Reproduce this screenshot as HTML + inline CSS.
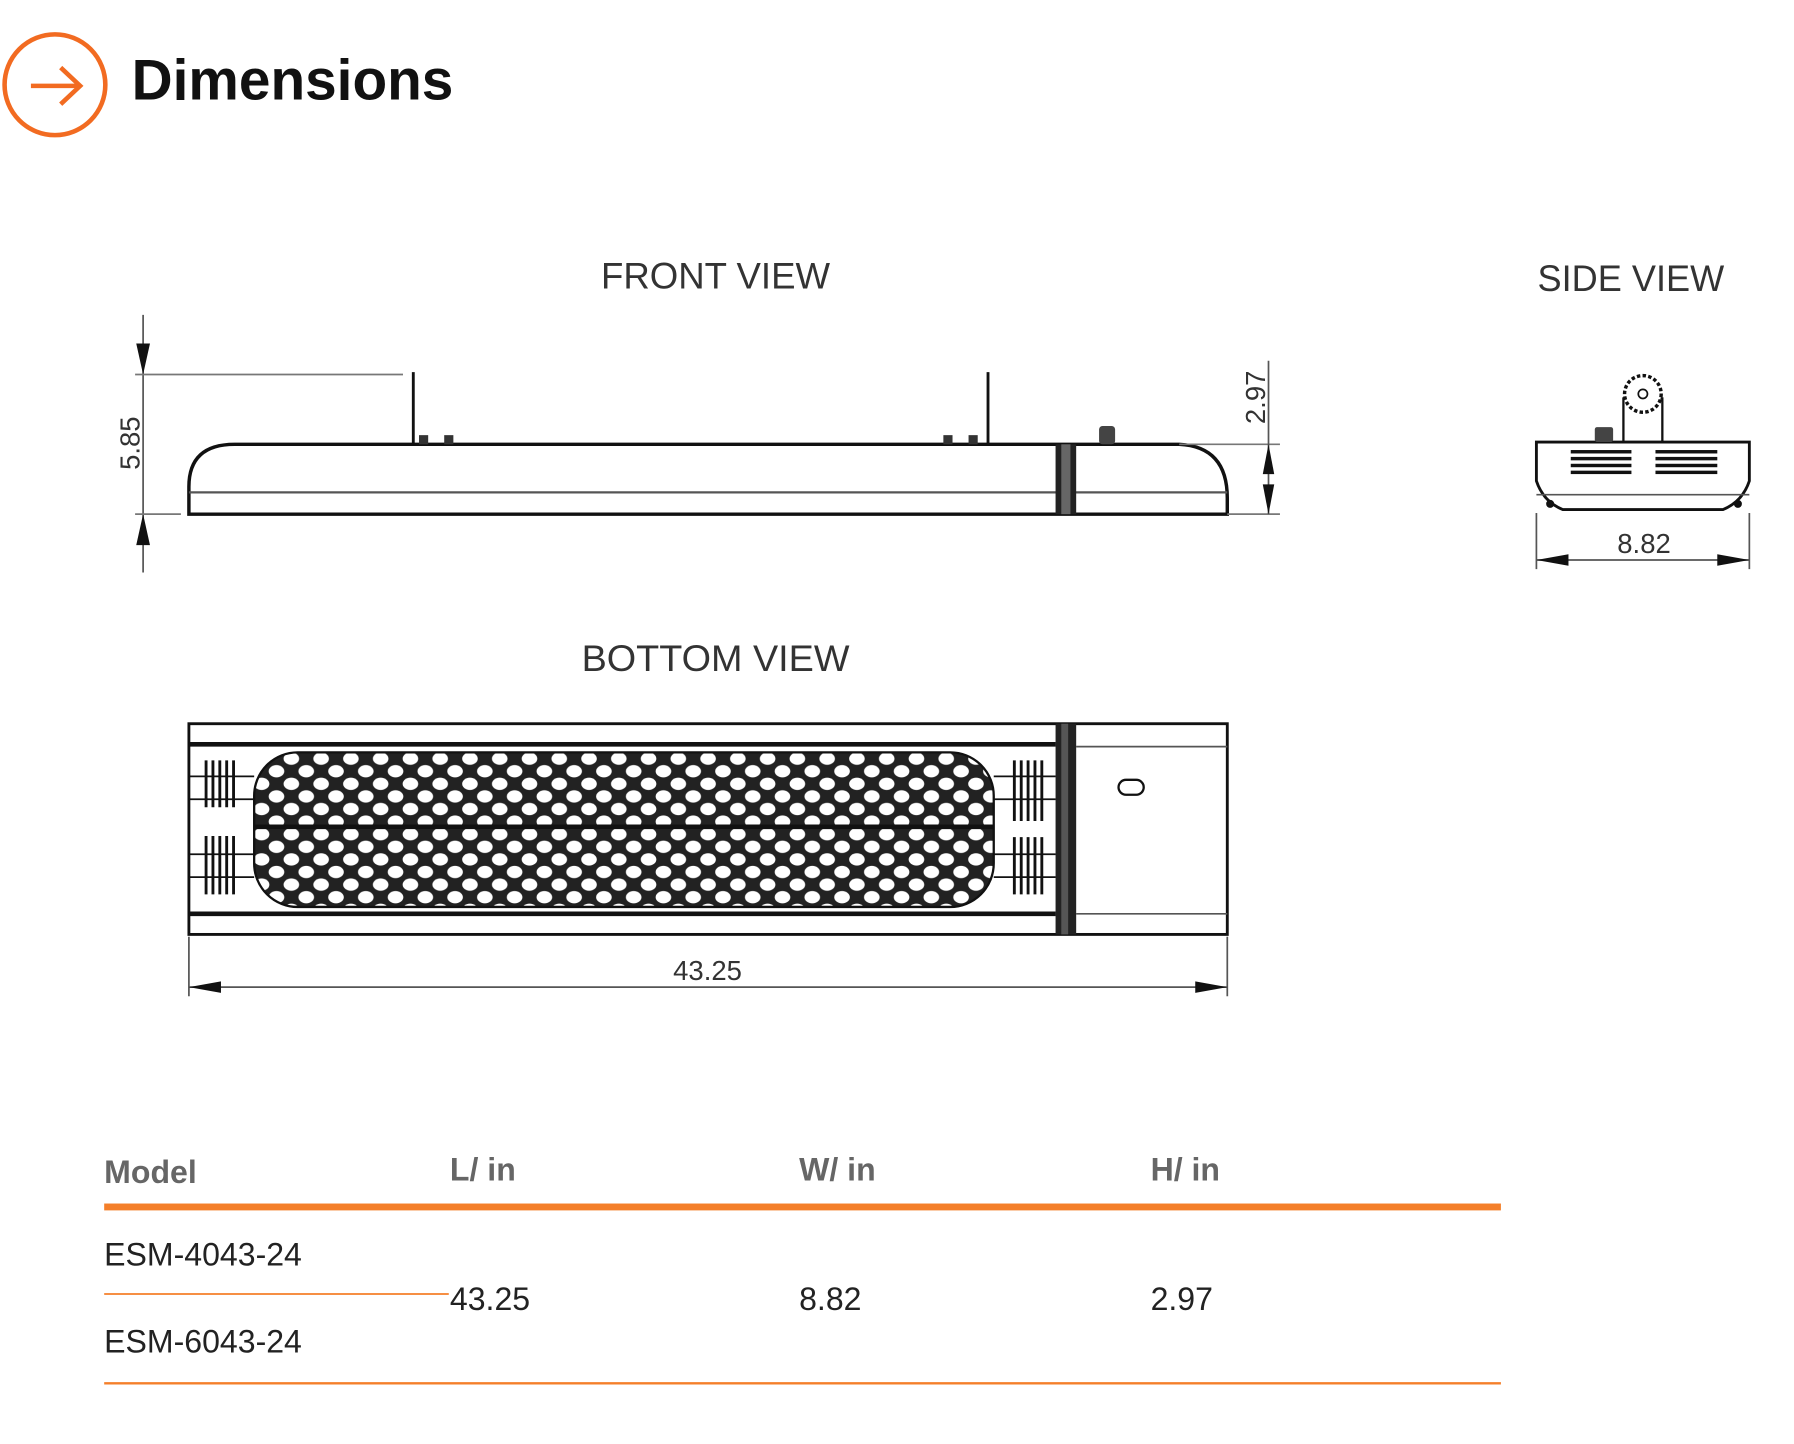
<!DOCTYPE html>
<html><head><meta charset="utf-8"><style>
html,body{margin:0;padding:0;background:#fff;}
svg{display:block;}
</style></head><body>
<svg width="1794" height="1444" viewBox="0 0 1567 1261" preserveAspectRatio="none" xmlns="http://www.w3.org/2000/svg" font-family="Liberation Sans, sans-serif">
<defs>
<pattern id="hex" x="222" y="657" width="26" height="22" patternUnits="userSpaceOnUse">
<rect width="26" height="22" fill="#222"/>
<ellipse cx="6.5" cy="5.5" rx="6.8" ry="5.4" fill="#fff"/>
<ellipse cx="19.5" cy="16.5" rx="6.8" ry="5.4" fill="#fff"/>
<ellipse cx="19.5" cy="-5.5" rx="6.8" ry="5.4" fill="#fff"/>
<ellipse cx="-6.5" cy="16.5" rx="6.8" ry="5.4" fill="#fff"/>
<ellipse cx="32.5" cy="5.5" rx="6.8" ry="5.4" fill="#fff"/>
<ellipse cx="6.5" cy="27.5" rx="6.8" ry="5.4" fill="#fff"/>
</pattern>
</defs>

<!-- Title -->
<circle cx="48" cy="74" r="44" fill="none" stroke="#f26b21" stroke-width="4"/>
<line x1="27" y1="75" x2="69" y2="75" stroke="#f26b21" stroke-width="4"/>
<polyline points="53,59 70,75 53,91" fill="none" stroke="#f26b21" stroke-width="4"/>
<text x="115" y="87" font-size="50" font-weight="bold" fill="#111" textLength="281" lengthAdjust="spacingAndGlyphs">Dimensions</text>

<!-- view labels -->
<g fill="#333" font-size="32">
<text x="525" y="252" textLength="200" lengthAdjust="spacingAndGlyphs">FRONT VIEW</text>
<text x="1343" y="254" textLength="163" lengthAdjust="spacingAndGlyphs">SIDE VIEW</text>
<text x="508" y="586" textLength="234" lengthAdjust="spacingAndGlyphs">BOTTOM VIEW</text>
</g>

<!-- FRONT VIEW -->
<g stroke="#111" fill="none">
<line x1="125" y1="275" x2="125" y2="500" stroke="#555" stroke-width="1.5"/>
<path d="M119,300 L125,327 L131,300 Z" fill="#111" stroke="none"/>
<path d="M119,476 L125,449 L131,476 Z" fill="#111" stroke="none"/>
<line x1="118" y1="327" x2="352" y2="327" stroke="#777" stroke-width="1.5"/>
<line x1="118" y1="449" x2="158" y2="449" stroke="#777" stroke-width="1.5"/>
<path d="M165,449 L165,425 Q165,388 205,388 L1030,388 Q1072,390 1072,435 L1072,449 Z" stroke-width="3"/>
<line x1="165" y1="430" x2="1072" y2="430" stroke="#555" stroke-width="2"/>
<rect x="922" y="388" width="18" height="61" fill="#222" stroke="none"/>
<rect x="927" y="388" width="8" height="61" fill="#666" stroke="none"/>
<line x1="361" y1="325" x2="361" y2="388" stroke-width="2.5"/>
<line x1="863" y1="325" x2="863" y2="388" stroke-width="2.5"/>
<rect x="366" y="380" width="8" height="8" fill="#333" stroke="none"/>
<rect x="388" y="380" width="8" height="8" fill="#333" stroke="none"/>
<rect x="824" y="380" width="8" height="8" fill="#333" stroke="none"/>
<rect x="846" y="380" width="8" height="8" fill="#333" stroke="none"/>
<rect x="960" y="372" width="14" height="16" rx="3" fill="#444" stroke="none"/>
<line x1="1030" y1="388" x2="1118" y2="388" stroke="#777" stroke-width="1.5"/>
<line x1="1072" y1="449" x2="1118" y2="449" stroke="#777" stroke-width="1.5"/>
<line x1="1108" y1="315" x2="1108" y2="449" stroke="#555" stroke-width="1.5"/>
<path d="M1103,414 L1108,388 L1113,414 Z" fill="#111" stroke="none"/>
<path d="M1103,423 L1108,449 L1113,423 Z" fill="#111" stroke="none"/>
</g>
<text transform="translate(122,387) rotate(-90)" text-anchor="middle" font-size="24" fill="#333">5.85</text>
<text transform="translate(1105,347) rotate(-90)" text-anchor="middle" font-size="24" fill="#333">2.97</text>

<!-- SIDE VIEW -->
<g stroke="#111" fill="none">
<path d="M1342,386 L1528,386 L1528,420 Q1522,438 1505,445 L1365,445 Q1348,438 1342,420 Z" stroke-width="2.5"/>
<line x1="1342" y1="432" x2="1528" y2="432" stroke="#555" stroke-width="1.5"/>
<circle cx="1354" cy="440" r="3" fill="#111"/>
<circle cx="1518" cy="440" r="3" fill="#111"/>
<rect x="1418" y="348" width="34" height="38" stroke-width="2"/>
<circle cx="1435" cy="344" r="16" fill="#fff" stroke-width="3" stroke-dasharray="3 2"/>
<circle cx="1435" cy="344" r="4" stroke-width="1.5"/>
<rect x="1393" y="373" width="16" height="13" rx="2" fill="#444" stroke="none"/>
</g>
<g fill="#111">
<rect x="1372" y="393" width="53" height="3"/><rect x="1372" y="399" width="53" height="3"/><rect x="1372" y="405" width="53" height="3"/><rect x="1372" y="411" width="53" height="3"/>
<rect x="1446" y="393" width="54" height="3"/><rect x="1446" y="399" width="54" height="3"/><rect x="1446" y="405" width="54" height="3"/><rect x="1446" y="411" width="54" height="3"/>
</g>
<g stroke="#555" stroke-width="1.5">
<line x1="1342" y1="448" x2="1342" y2="497"/>
<line x1="1528" y1="448" x2="1528" y2="497"/>
<line x1="1342" y1="489" x2="1528" y2="489"/>
</g>
<path d="M1342,489 L1370,484 L1370,494 Z" fill="#111"/>
<path d="M1528,489 L1500,484 L1500,494 Z" fill="#111"/>
<text x="1436" y="483" text-anchor="middle" font-size="24" fill="#333">8.82</text>

<!-- BOTTOM VIEW -->
<g stroke="#111" fill="none">
<rect x="165" y="632" width="907" height="184" stroke-width="2.5"/>
<line x1="165" y1="650" x2="922" y2="650" stroke-width="4"/>
<line x1="165" y1="798" x2="922" y2="798" stroke-width="4"/>
<line x1="940" y1="652" x2="1072" y2="652" stroke="#555" stroke-width="1.5"/>
<line x1="940" y1="798" x2="1072" y2="798" stroke="#555" stroke-width="1.5"/>
<rect x="977" y="681" width="22" height="13" rx="6.5" stroke-width="2"/>
</g>
<rect x="922" y="632" width="18" height="184" fill="#222"/>
<rect x="927" y="632" width="6" height="184" fill="#555"/>
<rect x="222" y="657" width="646" height="135" rx="38" fill="url(#hex)" stroke="#111" stroke-width="2"/>
<line x1="222" y1="722" x2="868" y2="722" stroke="#111" stroke-width="4"/>
<g stroke="#111" stroke-width="1.5">
<line x1="165" y1="678" x2="222" y2="678"/><line x1="165" y1="698" x2="222" y2="698"/>
<line x1="165" y1="746" x2="222" y2="746"/><line x1="165" y1="766" x2="222" y2="766"/>
<line x1="868" y1="678" x2="922" y2="678"/><line x1="868" y1="698" x2="922" y2="698"/>
<line x1="868" y1="746" x2="922" y2="746"/><line x1="868" y1="766" x2="922" y2="766"/>
</g>
<g stroke="#111" stroke-width="2.5">
<path d="M180,664V705M186,664V705M192,664V705M198,664V705M204,664V705"/>
<path d="M180,730V781M186,730V781M192,730V781M198,730V781M204,730V781"/>
<path d="M886,664V717M892,664V717M898,664V717M904,664V717M910,664V717"/>
<path d="M886,731V781M892,731V781M898,731V781M904,731V781M910,731V781"/>
</g>
<g stroke="#555" stroke-width="1.5">
<line x1="165" y1="818" x2="165" y2="870"/>
<line x1="1072" y1="818" x2="1072" y2="870"/>
<line x1="165" y1="862" x2="1072" y2="862"/>
</g>
<path d="M165,862 L193,857 L193,867 Z" fill="#111"/>
<path d="M1072,862 L1044,857 L1044,867 Z" fill="#111"/>
<text x="618" y="856" text-anchor="middle" font-size="24" fill="#333">43.25</text>

<!-- TABLE -->
<g font-size="28" font-weight="bold" fill="#666">
<text x="91" y="1033">Model</text>
<text x="393" y="1031">L/ in</text>
<text x="698" y="1031">W/ in</text>
<text x="1005" y="1031">H/ in</text>
</g>
<rect x="91" y="1051" width="1220" height="6" fill="#f47f2a"/>
<line x1="91" y1="1130" x2="392" y2="1130" stroke="#f47f2a" stroke-width="1.5"/>
<line x1="91" y1="1208" x2="1311" y2="1208" stroke="#f47f2a" stroke-width="2"/>
<g font-size="28" fill="#222">
<text x="91" y="1105">ESM-4043-24</text>
<text x="91" y="1181">ESM-6043-24</text>
<text x="393" y="1144">43.25</text>
<text x="698" y="1144">8.82</text>
<text x="1005" y="1144">2.97</text>
</g>
</svg>
</body></html>
